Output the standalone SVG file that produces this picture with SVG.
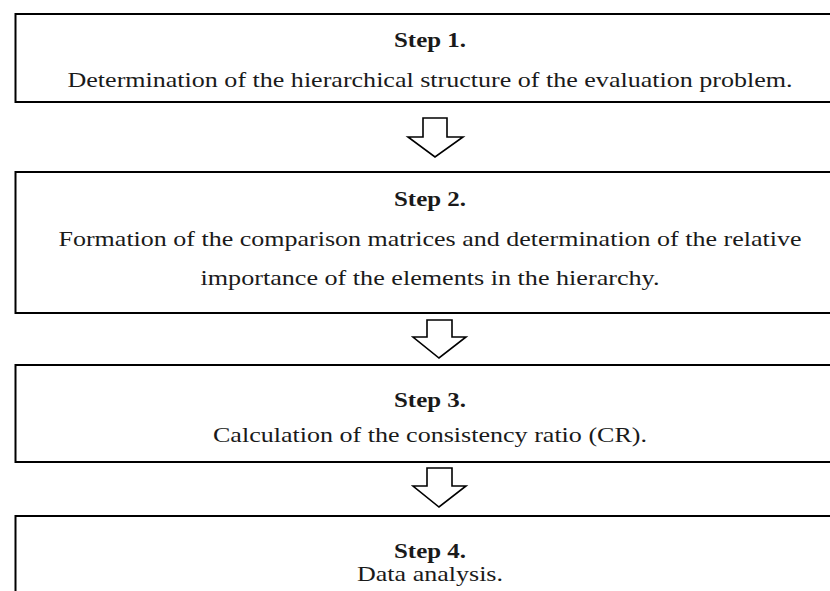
<svg xmlns="http://www.w3.org/2000/svg" width="830" height="591" viewBox="0 0 830 591">
<style>
.box{fill:#fff;stroke:#000;stroke-width:2}
.arr{fill:#fff;stroke:#000;stroke-width:1.6;stroke-linejoin:miter}
text{font-family:"Liberation Serif","Times New Roman",serif;font-size:22px;fill:#1a1a1a;text-anchor:middle}
.h{font-weight:bold}
</style>
<rect width="830" height="591" fill="#fff"/>
<g id="step1">
<rect class="box" x="15.5" y="14" width="830" height="88"/>
<text class="h" x="430" y="47" textLength="72" lengthAdjust="spacingAndGlyphs">Step 1.</text>
<text x="430" y="87" textLength="725" lengthAdjust="spacingAndGlyphs">Determination of the hierarchical structure of the evaluation problem.</text>
</g>
<g id="step2">
<rect class="box" x="15.5" y="172" width="830" height="141"/>
<text class="h" x="430" y="206" textLength="72" lengthAdjust="spacingAndGlyphs">Step 2.</text>
<text x="430" y="246" textLength="743" lengthAdjust="spacingAndGlyphs">Formation of the comparison matrices and determination of the relative</text>
<text x="430" y="285" textLength="459" lengthAdjust="spacingAndGlyphs">importance of the elements in the hierarchy.</text>
</g>
<g id="step3">
<rect class="box" x="15.5" y="365" width="830" height="97"/>
<text class="h" x="430" y="407" textLength="72" lengthAdjust="spacingAndGlyphs">Step 3.</text>
<text x="430" y="442" textLength="434" lengthAdjust="spacingAndGlyphs">Calculation of the consistency ratio (CR).</text>
</g>
<g id="step4">
<rect class="box" x="15.5" y="516" width="830" height="100"/>
<text class="h" x="430" y="558" textLength="72" lengthAdjust="spacingAndGlyphs">Step 4.</text>
<text x="430" y="581" textLength="146" lengthAdjust="spacingAndGlyphs">Data analysis.</text>
</g>
<g id="connectors">
<path class="arr" d="M423,118 H447 V137 H463 L435,157 L408,137 H423 Z"/>
<path class="arr" d="M427,320 H452 V337 H466 L439,358 L413,337 H427 Z"/>
<path class="arr" d="M427,468 H452 V486 H466 L439,507 L413,486 H427 Z"/>
</g>
</svg>
